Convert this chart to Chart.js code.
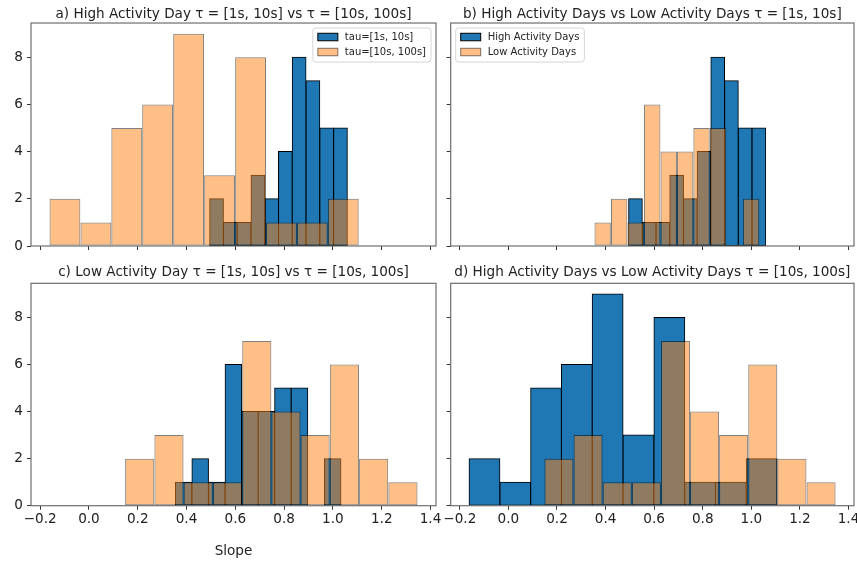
<!DOCTYPE html>
<html>
<head>
<meta charset="utf-8">
<script src="https://cdn.jsdelivr.net/npm/chart.js@4/dist/chart.umd.min.js"></script>
<style>
  body { margin: 0; background: #fff; }
  #wrap { position: relative; width: 857px; height: 562px; overflow: hidden; background: #fff; }
  canvas { position: absolute; }
</style>
</head>
<body>
<div id="wrap">
  <canvas id="panelA" width="442" height="262" style="left:0;top:0"></canvas>
  <canvas id="panelB" width="415" height="262" style="left:442px;top:0"></canvas>
  <canvas id="panelC" width="442" height="300" style="left:0;top:262px"></canvas>
  <canvas id="panelD" width="415" height="300" style="left:442px;top:262px"></canvas>
</div>
<script>
// slope histograms: bin edges and counts per day type and tau window
const highShortEdges = [0.495, 0.551, 0.608, 0.664, 0.721, 0.777, 0.833, 0.890, 0.946, 1.003, 1.059];
const highShortCounts = [2, 1, 1, 3, 2, 4, 8, 7, 5, 5];
const highLongEdges = [-0.162, -0.035, 0.092, 0.218, 0.345, 0.472, 0.599, 0.726, 0.852, 0.979, 1.106];
const highLongCounts = [2, 1, 5, 6, 9, 3, 8, 1, 1, 2];
const lowShortEdges = [0.354, 0.422, 0.490, 0.558, 0.626, 0.694, 0.761, 0.829, 0.897, 0.965, 1.033];
const lowShortCounts = [1, 2, 1, 6, 4, 4, 5, 5, 0, 2];
const lowLongEdges = [0.148, 0.268, 0.388, 0.508, 0.628, 0.748, 0.867, 0.987, 1.107, 1.227, 1.347];
const lowLongCounts = [2, 3, 1, 1, 7, 4, 3, 6, 2, 1];

const xTicks = [-0.2, 0.0, 0.2, 0.4, 0.6, 0.8, 1.0, 1.2, 1.4];
const yTicks = [0, 2, 4, 6, 8];
const xLimits = [-0.2375, 1.4225];
const yLimits = [0, 9.45];

const BLUE = '#1f77b4';
const ORANGE = 'rgba(255, 127, 14, 0.5)';
const FONT_SIZE = 13.6;

Chart.defaults.font.family = "'DejaVu Sans', sans-serif";
Chart.defaults.font.size = FONT_SIZE;
Chart.defaults.color = '#222';

function bins(edges, counts) {
  return counts.map((c, i) => ({ x: (edges[i] + edges[i + 1]) / 2, y: c }));
}

function blueSet(label, edges, counts) {
  return {
    label, data: bins(edges, counts), xAxisID: 'x', order: 2,
    backgroundColor: BLUE, borderColor: '#000', borderWidth: 1, inflateAmount: 0.5
  };
}

function orangeSet(label, edges, counts) {
  return {
    label, data: bins(edges, counts), xAxisID: 'x2', order: 1,
    backgroundColor: ORANGE, borderColor: 'rgba(0, 0, 0, 0.5)', borderWidth: 1, inflateAmount: 0
  };
}

const fmt = v => v.toFixed(1).replace('-', '\u2212');

// axes box drawn over the bars, like the spines
const frame = {
  id: 'frame',
  afterDatasetsDraw(chart) {
    const { ctx, chartArea: a } = chart;
    ctx.save();
    ctx.strokeStyle = '#6e6e6e';
    ctx.lineWidth = 1.2;
    ctx.strokeRect(a.left, a.top, a.right - a.left, a.bottom - a.top);
    ctx.restore();
  }
};

// legend box inside the plot area
const boxLegend = {
  id: 'boxLegend',
  afterDatasetsDraw(chart, args, opts) {
    if (!opts.corner) return;
    const { ctx, chartArea: a } = chart;
    const sets = chart.data.datasets;
    ctx.save();
    ctx.font = "10px 'DejaVu Sans'";
    const textW = Math.max(...sets.map(d => ctx.measureText(d.label).width));
    const w = 37 + textW;
    const h = 34;
    const x = opts.corner === 'right' ? a.right - 5 - w : a.left + 5;
    const y = a.top + 5;
    ctx.beginPath();
    ctx.roundRect(x, y, w, h, 3);
    ctx.fillStyle = 'rgba(255, 255, 255, 0.8)';
    ctx.fill();
    ctx.strokeStyle = '#d5d5d5';
    ctx.lineWidth = 1;
    ctx.stroke();
    sets.forEach((d, i) => {
      const cy = y + 9 + i * 15;
      ctx.fillStyle = d.backgroundColor;
      ctx.fillRect(x + 5, cy - 3.75, 20, 7.5);
      ctx.strokeStyle = d.borderColor;
      ctx.strokeRect(x + 5, cy - 3.75, 20, 7.5);
      ctx.fillStyle = '#222';
      ctx.textBaseline = 'middle';
      ctx.fillText(d.label, x + 32, cy);
    });
    ctx.restore();
  }
};

function makeScales(p) {
  const tickGrid = { drawOnChartArea: false, drawTicks: true, tickLength: 4, color: '#333', lineWidth: 1, offset: false };
  const xBase = {
    type: 'linear', min: xLimits[0], max: xLimits[1], offset: false,
    afterBuildTicks: s => { s.ticks = xTicks.map(v => ({ value: v })); }
  };
  return {
    x: {
      ...xBase,
      border: { display: false },
      grid: tickGrid,
      ticks: { display: p.xLabels, padding: 1.5, maxRotation: 0, autoSkip: false, callback: v => fmt(v) },
      title: { display: !!p.xTitle, text: p.xTitle || '', padding: { top: 0, bottom: 2.7 } },
      afterFit: s => { s.height = p.xHeight; s.paddingLeft = 0; s.paddingRight = 0; }
    },
    x2: { ...xBase, display: false, grid: { offset: false } },
    y: {
      type: 'linear', min: yLimits[0], max: yLimits[1],
      afterBuildTicks: s => { s.ticks = yTicks.map(v => ({ value: v })); },
      border: { display: false },
      grid: tickGrid,
      ticks: { display: p.yLabels, padding: 4 },
      afterFit: s => { s.width = p.yWidth; s.paddingTop = 0; s.paddingBottom = 0; }
    }
  };
}

function panel(id, p) {
  return new Chart(document.getElementById(id), {
    type: 'bar',
    data: { datasets: p.datasets },
    options: {
      responsive: false,
      animation: false,
      events: [],
      devicePixelRatio: 1,
      layout: { padding: { left: 0, right: p.padRight, top: 0, bottom: 0 } },
      datasets: { bar: { categoryPercentage: 1, barPercentage: 1, grouped: false, borderSkipped: false } },
      scales: makeScales(p),
      plugins: {
        legend: { display: false },
        tooltip: { enabled: false },
        title: {
          display: true, text: p.title, fullSize: false, color: '#222',
          font: { size: FONT_SIZE, weight: 'normal' }, padding: p.titlePad
        },
        boxLegend: { corner: p.legend }
      }
    },
    plugins: [frame, boxLegend]
  });
}

panel('panelA', {
  title: 'a) High Activity Day \u03c4 = [1s, 10s] vs \u03c4 = [10s, 100s]',
  titlePad: { top: 6, bottom: 0.7 },
  datasets: [
    blueSet('tau=[1s, 10s]', highShortEdges, highShortCounts),
    orangeSet('tau=[10s, 100s]', highLongEdges, highLongCounts)
  ],
  legend: 'right', yWidth: 31, yLabels: true, xLabels: false, xHeight: 16, padRight: 6
});

panel('panelB', {
  title: 'b) High Activity Days vs Low Activity Days \u03c4 = [1s, 10s]',
  titlePad: { top: 6, bottom: 0.7 },
  datasets: [
    blueSet('High Activity Days', highShortEdges, highShortCounts),
    orangeSet('Low Activity Days', lowShortEdges, lowShortCounts)
  ],
  legend: 'left', yWidth: 8.7, yLabels: false, xLabels: false, xHeight: 16, padRight: 3
});

panel('panelC', {
  title: 'c) Low Activity Day \u03c4 = [1s, 10s] vs \u03c4 = [10s, 100s]',
  titlePad: { top: 2, bottom: 3 },
  datasets: [
    blueSet('tau=[1s, 10s]', lowShortEdges, lowShortCounts),
    orangeSet('tau=[10s, 100s]', lowLongEdges, lowLongCounts)
  ],
  legend: null, yWidth: 31, yLabels: true, xLabels: true, xHeight: 56.3, xTitle: 'Slope', padRight: 6
});

panel('panelD', {
  title: 'd) High Activity Days vs Low Activity Days \u03c4 = [10s, 100s]',
  titlePad: { top: 2, bottom: 3 },
  datasets: [
    blueSet('High Activity Days', highLongEdges, highLongCounts),
    orangeSet('Low Activity Days', lowLongEdges, lowLongCounts)
  ],
  legend: null, yWidth: 8.7, yLabels: false, xLabels: true, xHeight: 56.3, padRight: 3
});
</script>
</body>
</html>
